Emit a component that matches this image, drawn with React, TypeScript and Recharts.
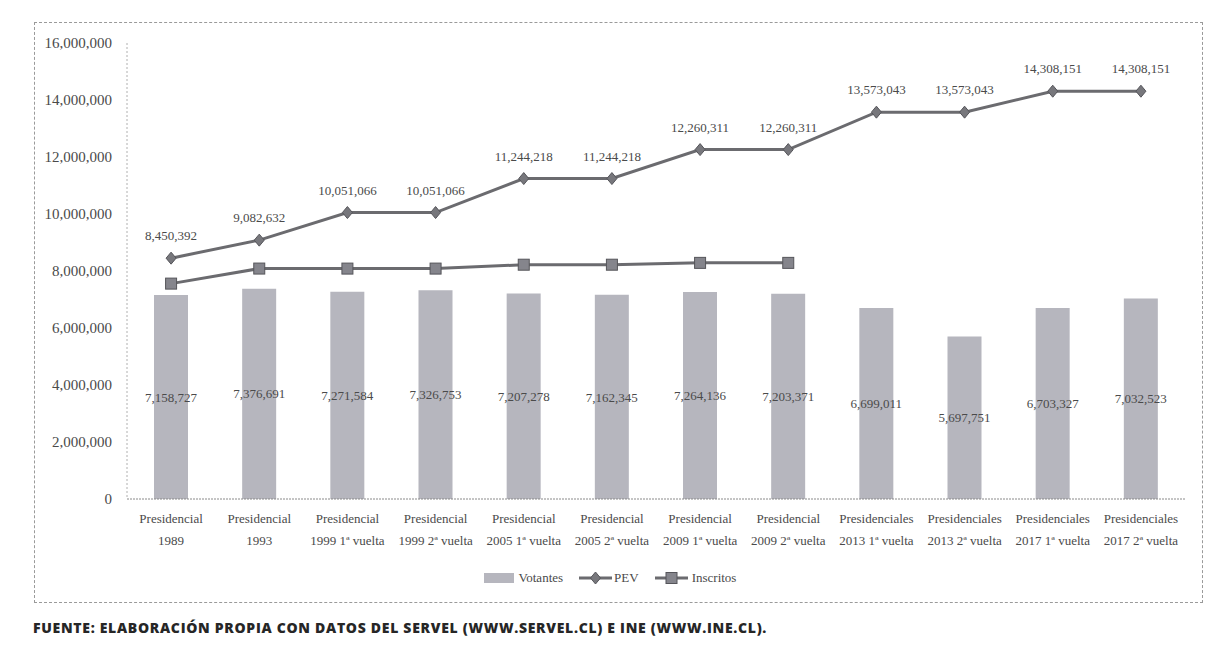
import React from "react";
import { ComposedChart, Bar, Line, XAxis, YAxis, Legend, LabelList } from "recharts";

// Tipo de elección (primera línea de la etiqueta)
const tipos = [
  "Presidencial", "Presidencial", "Presidencial", "Presidencial", "Presidencial", "Presidencial",
  "Presidencial", "Presidencial", "Presidenciales", "Presidenciales", "Presidenciales", "Presidenciales",
];

// Año y vuelta (segunda línea)
const elecciones = [
  "1989", "1993", "1999 1ª vuelta", "1999 2ª vuelta", "2005 1ª vuelta", "2005 2ª vuelta",
  "2009 1ª vuelta", "2009 2ª vuelta", "2013 1ª vuelta", "2013 2ª vuelta", "2017 1ª vuelta", "2017 2ª vuelta",
];

const votantes = [
  7158727, 7376691, 7271584, 7326753, 7207278, 7162345,
  7264136, 7203371, 6699011, 5697751, 6703327, 7032523,
];

const pev = [
  8450392, 9082632, 10051066, 10051066, 11244218, 11244218,
  12260311, 12260311, 13573043, 13573043, 14308151, 14308151,
];

const inscritos = [
  7557537, 8085439, 8084476, 8084476, 8220897, 8220897,
  8285186, 8285186, null, null, null, null,
];

const yTicks = [0, 2000000, 4000000, 6000000, 8000000, 10000000, 12000000, 14000000, 16000000];

const chartData = elecciones.map((e, i) => ({
  key: `${tipos[i]} ${e}`,
  tipo: tipos[i],
  eleccion: e,
  votantes: votantes[i],
  pev: pev[i],
  inscritos: inscritos[i],
}));

const SERIF = '"Liberation Serif", "DejaVu Serif", serif';
const TEXT = "#4a4a4a";
const BAR = "#b6b6be";
const LINE = "#6b6b6f";

const fmt = (v: number) => (v === 0 ? "0" : v.toLocaleString("en-US"));

function CategoryTick({ x, y, index }: any) {
  return (
    <g transform={`translate(${x},${y})`}>
      <text textAnchor="middle" fontFamily={SERIF} fontSize={13} fill={TEXT}>
        <tspan x={0} y={16}>{tipos[index]}</tspan>
        <tspan x={0} y={38}>{elecciones[index]}</tspan>
      </text>
    </g>
  );
}

function Diamond({ cx, cy }: any) {
  if (cx == null || cy == null) return null;
  return <path d={`M${cx},${cy - 6} L${cx + 5},${cy} L${cx},${cy + 6} L${cx - 5},${cy} Z`} fill="#77777c" stroke="#55555a" strokeWidth={1} />;
}

function Square({ cx, cy }: any) {
  if (cx == null || cy == null) return null;
  return <rect x={cx - 5.5} y={cy - 5.5} width={11} height={11} fill="#85858c" stroke="#55555a" strokeWidth={1} />;
}

function LegendContent() {
  const item = { display: "flex", alignItems: "center", marginRight: 16 } as const;
  return (
    <div style={{ display: "flex", justifyContent: "center", alignItems: "center", height: 30, fontFamily: SERIF, fontSize: 13, color: TEXT }}>
      <div style={item}>
        <svg width={30} height={10} style={{ marginRight: 5 }}>
          <rect x={0} y={0} width={30} height={10} fill={BAR} />
        </svg>
        Votantes
      </div>
      <div style={item}>
        <svg width={33} height={14} style={{ marginRight: 2 }}>
          <line x1={0} y1={7} x2={33} y2={7} stroke={LINE} strokeWidth={3} />
          <Diamond cx={16.5} cy={7} />
        </svg>
        PEV
      </div>
      <div style={{ ...item, marginRight: 0 }}>
        <svg width={33} height={14} style={{ marginRight: 4 }}>
          <line x1={0} y1={7} x2={33} y2={7} stroke={LINE} strokeWidth={3} />
          <Square cx={16.5} cy={7} />
        </svg>
        Inscritos
      </div>
    </div>
  );
}

export default function App() {
  return (
    <div style={{ position: "absolute", left: 0, top: 0, width: 1209, height: 666, background: "#ffffff" }}>
      <div
        style={{
          position: "absolute",
          left: 34,
          top: 22,
          width: 1169,
          height: 581,
          boxSizing: "border-box",
          border: "1px dashed #9a9a9a",
        }}
      />
      <div style={{ position: "absolute", left: 35, top: 23 }}>
        <ComposedChart
          width={1167}
          height={579}
          data={chartData}
          margin={{ top: 20, right: 17, left: 0, bottom: 23 }}
          barCategoryGap={27}
        >
          <XAxis
            dataKey="key"
            interval={0}
            height={50}
            tick={<CategoryTick />}
            tickLine={false}
            axisLine={{ stroke: "#8a8a8a", strokeDasharray: "2 1" }}
          />
          <YAxis
            width={92}
            domain={[0, 16000000]}
            ticks={yTicks}
            interval={0}
            tickFormatter={fmt}
            tickMargin={9}
            tick={{ fontFamily: SERIF, fontSize: 15, fill: TEXT }}
            tickLine={false}
            axisLine={{ stroke: "#b0b0b0", strokeDasharray: "2 2" }}
          />
          <Legend content={<LegendContent />} verticalAlign="bottom" height={30} wrapperStyle={{ bottom: 9 }} />
          <Bar dataKey="votantes" name="Votantes" fill={BAR} barSize={34} isAnimationActive={false}>
            <LabelList
              dataKey="votantes"
              position="center"
              formatter={(v: any) => fmt(Number(v))}
              style={{ fontFamily: SERIF, fontSize: 13, fill: TEXT }}
            />
          </Bar>
          <Line
            type="linear"
            dataKey="pev"
            name="PEV"
            stroke={LINE}
            strokeWidth={3}
            dot={<Diamond />}
            activeDot={false}
            isAnimationActive={false}
          >
            <LabelList
              dataKey="pev"
              position="top"
              offset={18}
              formatter={(v: any) => fmt(Number(v))}
              style={{ fontFamily: SERIF, fontSize: 13, fill: TEXT }}
            />
          </Line>
          <Line
            type="linear"
            dataKey="inscritos"
            name="Inscritos"
            stroke={LINE}
            strokeWidth={3}
            dot={<Square />}
            activeDot={false}
            connectNulls={false}
            isAnimationActive={false}
          />
        </ComposedChart>
      </div>
      <div
        style={{
          position: "absolute",
          left: 33,
          top: 618,
          fontFamily: '"Open Sans", sans-serif',
          fontWeight: 800,
          fontSize: 14,
          letterSpacing: 0.7,
          color: "#262626",
          whiteSpace: "nowrap",
        }}
      >
        FUENTE: ELABORACIÓN PROPIA CON DATOS DEL SERVEL (WWW.SERVEL.CL) E INE (WWW.INE.CL).
      </div>
    </div>
  );
}
